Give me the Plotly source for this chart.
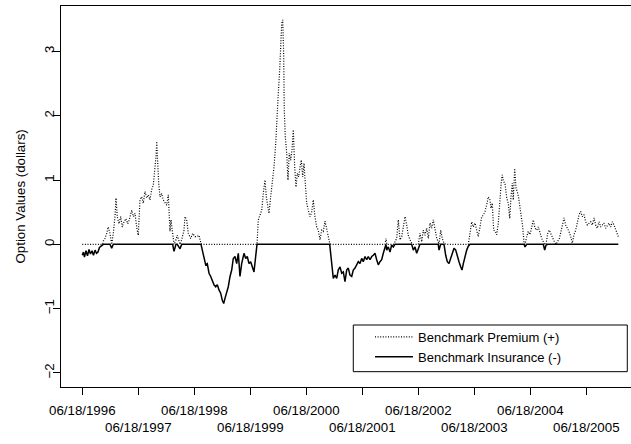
import plotly.graph_objects as go

# decimal-year dates of the observations (06/18/1996 = 1996.46)
years = [
    1996.460, 1996.481, 1996.499, 1996.526, 1996.553, 1996.580, 1996.606, 1996.633, 1996.660, 1996.687,
    1996.714, 1996.740, 1996.767, 1996.794, 1996.821, 1996.835, 1996.865, 1996.896, 1996.924, 1996.955,
    1996.985, 1997.014, 1997.044, 1997.062, 1997.085, 1997.115, 1997.146, 1997.174, 1997.205, 1997.240,
    1997.271, 1997.299, 1997.342, 1997.371, 1997.401, 1997.431, 1997.460, 1997.490, 1997.521, 1997.549,
    1997.580, 1997.610, 1997.639, 1997.669, 1997.699, 1997.728, 1997.758, 1997.776, 1997.789, 1997.806,
    1997.824, 1997.848, 1997.878, 1997.906, 1997.937, 1997.967, 1997.996, 1998.026, 1998.044, 1998.074,
    1998.098, 1998.133, 1998.156, 1998.205, 1998.235, 1998.276, 1998.294, 1998.324, 1998.353, 1998.396,
    1998.431, 1998.473, 1998.503, 1998.544, 1998.580, 1998.603, 1998.633, 1998.664, 1998.692, 1998.723,
    1998.753, 1998.781, 1998.812, 1998.842, 1998.871, 1998.901, 1998.931, 1998.960, 1998.985, 1999.008,
    1999.039, 1999.067, 1999.098, 1999.128, 1999.156, 1999.187, 1999.217, 1999.246, 1999.276, 1999.306,
    1999.348, 1999.378, 1999.406, 1999.437, 1999.467, 1999.496, 1999.526, 1999.556, 1999.580, 1999.603,
    1999.633, 1999.664, 1999.692, 1999.723, 1999.746, 1999.771, 1999.794, 1999.824, 1999.853, 1999.883,
    1999.914, 1999.937, 1999.960, 1999.985, 2000.003, 2000.021, 2000.039, 2000.056, 2000.067, 2000.085,
    2000.110, 2000.133, 2000.156, 2000.181, 2000.205, 2000.228, 2000.253, 2000.276, 2000.299, 2000.324,
    2000.348, 2000.371, 2000.396, 2000.419, 2000.442, 2000.467, 2000.496, 2000.526, 2000.556, 2000.585,
    2000.615, 2000.646, 2000.674, 2000.705, 2000.735, 2000.764, 2000.794, 2000.824, 2000.853, 2000.878,
    2000.901, 2000.919, 2000.942, 2000.973, 2001.003, 2001.031, 2001.062, 2001.092, 2001.121, 2001.151,
    2001.181, 2001.210, 2001.240, 2001.271, 2001.299, 2001.330, 2001.360, 2001.389, 2001.419, 2001.449,
    2001.478, 2001.508, 2001.539, 2001.567, 2001.598, 2001.628, 2001.656, 2001.687, 2001.717, 2001.746,
    2001.776, 2001.806, 2001.835, 2001.865, 2001.883, 2001.896, 2001.924, 2001.955, 2001.985, 2002.014,
    2002.044, 2002.074, 2002.103, 2002.133, 2002.164, 2002.192, 2002.223, 2002.253, 2002.281, 2002.312,
    2002.342, 2002.371, 2002.401, 2002.431, 2002.460, 2002.490, 2002.521, 2002.549, 2002.580, 2002.610,
    2002.639, 2002.669, 2002.699, 2002.728, 2002.758, 2002.789, 2002.817, 2002.830, 2002.860, 2002.889,
    2002.919, 2002.949, 2002.978, 2003.008, 2003.039, 2003.067, 2003.098, 2003.128, 2003.156, 2003.187,
    2003.217, 2003.240, 2003.264, 2003.294, 2003.324, 2003.353, 2003.383, 2003.414, 2003.442, 2003.473,
    2003.503, 2003.531, 2003.562, 2003.592, 2003.621, 2003.651, 2003.681, 2003.710, 2003.740, 2003.758,
    2003.781, 2003.806, 2003.835, 2003.860, 2003.889, 2003.919, 2003.942, 2003.960, 2003.978, 2004.008,
    2004.039, 2004.067, 2004.092, 2004.115, 2004.139, 2004.156, 2004.181, 2004.205, 2004.228, 2004.253,
    2004.276, 2004.306, 2004.324, 2004.348, 2004.365, 2004.396, 2004.424, 2004.455, 2004.485, 2004.514,
    2004.544, 2004.574, 2004.603, 2004.633, 2004.664, 2004.692, 2004.717, 2004.740, 2004.771, 2004.799,
    2004.830, 2004.860, 2004.889, 2004.919, 2004.949, 2004.978, 2005.008, 2005.039, 2005.062, 2005.092,
    2005.121, 2005.151, 2005.181, 2005.210, 2005.240, 2005.271, 2005.299, 2005.330, 2005.360, 2005.389,
    2005.419, 2005.449, 2005.478, 2005.508, 2005.539, 2005.567, 2005.598, 2005.628, 2005.656, 2005.687,
    2005.717, 2005.746, 2005.776, 2005.806, 2005.835, 2005.865, 2005.896, 2005.924, 2005.955, 2005.985,
    2006.014, 2006.031,
]

benchmark_premium = [
    0, 0, 0, 0, 0, 0, 0, 0, 0, 0,
    0, 0, 0, 0, 0, 0.05, 0.09, 0.17, 0.27, 0.17,
    0, 0.17, 0.43, 0.72, 0.43, 0.32, 0.43, 0.27, 0.35, 0.40,
    0.32, 0.38, 0.53, 0.43, 0.48, 0.27, 0.14, 0.69, 0.74, 0.64,
    0.82, 0.72, 0.77, 0.69, 0.85, 0.92, 1.16, 1.36, 1.60, 1.26,
    0.95, 0.74, 0.79, 0.69, 0.64, 0.61, 0.77, 0.20, 0.38, 0.14,
    0, 0.07, 0.14, 0, 0.07, 0.22, 0.43, 0.38, 0.17, 0.09,
    0.17, 0.12, 0.12, 0.14, 0.01, 0, 0, 0, 0, 0,
    0, 0, 0, 0, 0, 0, 0, 0, 0, 0,
    0, 0, 0, 0, 0, 0, 0, 0, 0, 0,
    0, 0, 0, 0, 0, 0, 0, 0, 0, 0.38,
    0.45, 0.53, 0.79, 1.00, 0.74, 0.59, 0.48, 0.74, 0.95, 1.20,
    1.57, 2.09, 2.35, 2.71, 3.12, 3.44, 3.49, 2.97, 2.09, 1.67,
    1.42, 1.00, 1.42, 1.31, 1.47, 1.78, 1.20, 0.89, 1.10, 1.05,
    1.20, 1.31, 1.05, 1.26, 0.95, 0.64, 0.53, 0.43, 0.50, 0.69,
    0.43, 0.27, 0.22, 0.07, 0.22, 0.20, 0.36, 0.25, 0.12, 0.02,
    0, 0, 0, 0, 0, 0, 0, 0, 0, 0,
    0, 0, 0, 0, 0, 0, 0, 0, 0, 0,
    0, 0, 0, 0, 0, 0, 0, 0, 0, 0,
    0, 0, 0, 0, 0.09, 0, 0, 0, 0, 0,
    0.04, 0.09, 0.38, 0.07, 0.12, 0.27, 0.43, 0.30, 0.14, 0.07,
    0.02, 0, 0, 0, 0, 0.17, 0.04, 0.22, 0.14, 0.25,
    0.09, 0.33, 0.25, 0.38, 0.20, 0.09, 0.04, 0, 0.22, 0.09,
    0.02, 0, 0, 0, 0, 0, 0, 0, 0, 0,
    0, 0, 0, 0, 0, 0, 0.17, 0.35, 0.27, 0.33,
    0.22, 0.12, 0.27, 0.43, 0.45, 0.51, 0.61, 0.74, 0.69, 0.56,
    0.64, 0.22, 0.20, 0.15, 0.33, 0.74, 0.98, 1.08, 0.98, 0.95,
    0.72, 0.64, 0.40, 0.74, 0.95, 0.69, 1.18, 0.87, 0.82, 0.72,
    0.56, 0.43, 0.27, 0.02, 0, 0.12, 0.20, 0.15, 0.27, 0.38,
    0.25, 0.22, 0.27, 0.17, 0.09, 0.04, 0, 0, 0.17, 0.22,
    0.15, 0.09, 0.04, 0, 0.04, 0.09, 0.20, 0.35, 0.41, 0.30,
    0.25, 0.20, 0.12, 0.02, 0.15, 0.22, 0.33, 0.46, 0.51, 0.43,
    0.46, 0.35, 0.30, 0.33, 0.35, 0.30, 0.41, 0.30, 0.25, 0.35,
    0.27, 0.30, 0.33, 0.25, 0.30, 0.33, 0.27, 0.35, 0.30, 0.22,
    0.15, 0.12,
]

benchmark_insurance = [
    -0.17, -0.12, -0.20, -0.10, -0.18, -0.08, -0.15, -0.10, -0.17, -0.09,
    -0.14, -0.12, -0.05, -0.03, 0, 0, 0, 0, 0, 0,
    -0.06, 0, 0, 0, 0, 0, 0, 0, 0, 0,
    0, 0, 0, 0, 0, 0, 0, 0, 0, 0,
    0, 0, 0, 0, 0, 0, 0, 0, 0, 0,
    0, 0, 0, 0, 0, 0, 0, 0, 0, 0,
    -0.11, 0, 0, -0.07, 0, 0, 0, 0, 0, 0,
    0, 0, 0, 0, 0, -0.09, -0.22, -0.32, -0.30, -0.45,
    -0.50, -0.58, -0.63, -0.66, -0.63, -0.71, -0.76, -0.87, -0.92, -0.84,
    -0.76, -0.66, -0.50, -0.40, -0.22, -0.19, -0.30, -0.14, -0.50, -0.30,
    -0.14, -0.22, -0.19, -0.30, -0.27, -0.35, -0.43, -0.19, 0, 0,
    0, 0, 0, 0, 0, 0, 0, 0, 0, 0,
    0, 0, 0, 0, 0, 0, 0, 0, 0, 0,
    0, 0, 0, 0, 0, 0, 0, 0, 0, 0,
    0, 0, 0, 0, 0, 0, 0, 0, 0, 0,
    0, 0, 0, 0, 0, 0, 0, 0, 0, 0,
    -0.19, -0.37, -0.53, -0.48, -0.53, -0.40, -0.35, -0.45, -0.43, -0.58,
    -0.40, -0.37, -0.48, -0.50, -0.40, -0.37, -0.32, -0.27, -0.30, -0.22,
    -0.27, -0.19, -0.24, -0.19, -0.24, -0.19, -0.17, -0.14, -0.24, -0.32,
    -0.27, -0.24, -0.14, -0.04, 0, -0.09, -0.04, -0.12, -0.01, -0.04,
    0, 0, 0, 0, 0, 0, 0, 0, 0, 0,
    0, -0.09, -0.04, -0.14, -0.06, 0, 0, 0, 0, 0,
    0, 0, 0, 0, 0, 0, 0, -0.09, 0, 0,
    0, -0.17, -0.27, -0.30, -0.22, -0.12, -0.06, -0.09, -0.19, -0.27,
    -0.35, -0.40, -0.30, -0.17, -0.09, -0.03, 0, 0, 0, 0,
    0, 0, 0, 0, 0, 0, 0, 0, 0, 0,
    0, 0, 0, 0, 0, 0, 0, 0, 0, 0,
    0, 0, 0, 0, 0, 0, 0, 0, 0, 0,
    0, 0, 0, 0, -0.04, 0, 0, 0, 0, 0,
    0, 0, 0, 0, 0, 0, -0.09, -0.01, 0, 0,
    0, 0, 0, -0.01, 0, 0, 0, 0, 0, 0,
    0, 0, 0, 0, 0, 0, 0, 0, 0, 0,
    0, 0, 0, 0, 0, 0, 0, 0, 0, 0,
    0, 0, 0, 0, 0, 0, 0, 0, 0, 0,
    0, 0,
]

tick_years = [1996.46, 1997.46, 1998.46, 1999.46, 2000.46, 2001.46,
              2002.46, 2003.46, 2004.46, 2005.46]
tick_labels = ["06/18/1996", "06/18/1997", "06/18/1998", "06/18/1999", "06/18/2000",
               "06/18/2001", "06/18/2002", "06/18/2003", "06/18/2004", "06/18/2005"]
y_ticks = [-2, -1, 0, 1, 2, 3]
y_title = "Option Values (dollars)"

FONT = "Liberation Sans, Arial, sans-serif"
FS = 13.3

fig = go.Figure()
fig.add_trace(go.Scatter(
    x=years, y=benchmark_premium, mode="lines", name="Benchmark Premium (+)",
    line=dict(color="black", width=1.2, dash="1px,1.6px"),
))
fig.add_trace(go.Scatter(
    x=years, y=benchmark_insurance, mode="lines", name="Benchmark Insurance (-)",
    line=dict(color="black", width=1.5),
))

# legend frame
fig.add_shape(type="rect", xref="paper", yref="paper",
              x0=0.5128, x1=0.9935, y0=0.0402, y1=0.1627,
              line=dict(color="black", width=1), fillcolor="rgba(0,0,0,0)")

# date labels on two alternating rows below the axis
for i, (xv, lab) in enumerate(zip(tick_years, tick_labels)):
    fig.add_annotation(x=xv, xref="x", y=-0.0622 if i % 2 == 0 else -0.1068, yref="paper",
                       text=lab, showarrow=False, xanchor="center", yanchor="middle",
                       font=dict(family=FONT, size=FS, color="black"))

# y axis title
fig.add_annotation(x=-0.0719, xref="paper", y=0.5, yref="paper", text=y_title,
                   textangle=-90, showarrow=False, xanchor="center", yanchor="middle",
                   font=dict(family=FONT, size=FS, color="black"))

fig.update_layout(
    width=631, height=444,
    margin=dict(l=61, r=0, t=6, b=57),
    paper_bgcolor="white", plot_bgcolor="white",
    font=dict(family=FONT, size=FS, color="black"),
    showlegend=True,
    legend=dict(x=0.5421, y=0.171, xanchor="left", yanchor="top",
                bgcolor="rgba(0,0,0,0)", borderwidth=0,
                font=dict(family=FONT, size=13, color="black"),
                itemwidth=38, tracegroupgap=0),
    xaxis=dict(range=[1996.080, 2006.258], tickvals=tick_years, showticklabels=False,
               showline=True, linecolor="black", linewidth=1.2, mirror=True,
               ticks="outside", ticklen=7, tickwidth=1, tickcolor="black",
               showgrid=False, zeroline=False, automargin=False),
    yaxis=dict(range=[-2.219, 3.706], tickvals=y_ticks,
               showline=True, linecolor="black", linewidth=1.2, mirror=False,
               ticks="outside", ticklen=7, tickwidth=1, tickcolor="black",
               showgrid=False, zeroline=False, tickangle=-90, automargin=False,
               ticklabelstandoff=-6,
               tickfont=dict(family=FONT, size=FS, color="black")),
)

fig.write_html("out.html", config={"displayModeBar": False},
               post_script="document.body.style.margin='0';")
